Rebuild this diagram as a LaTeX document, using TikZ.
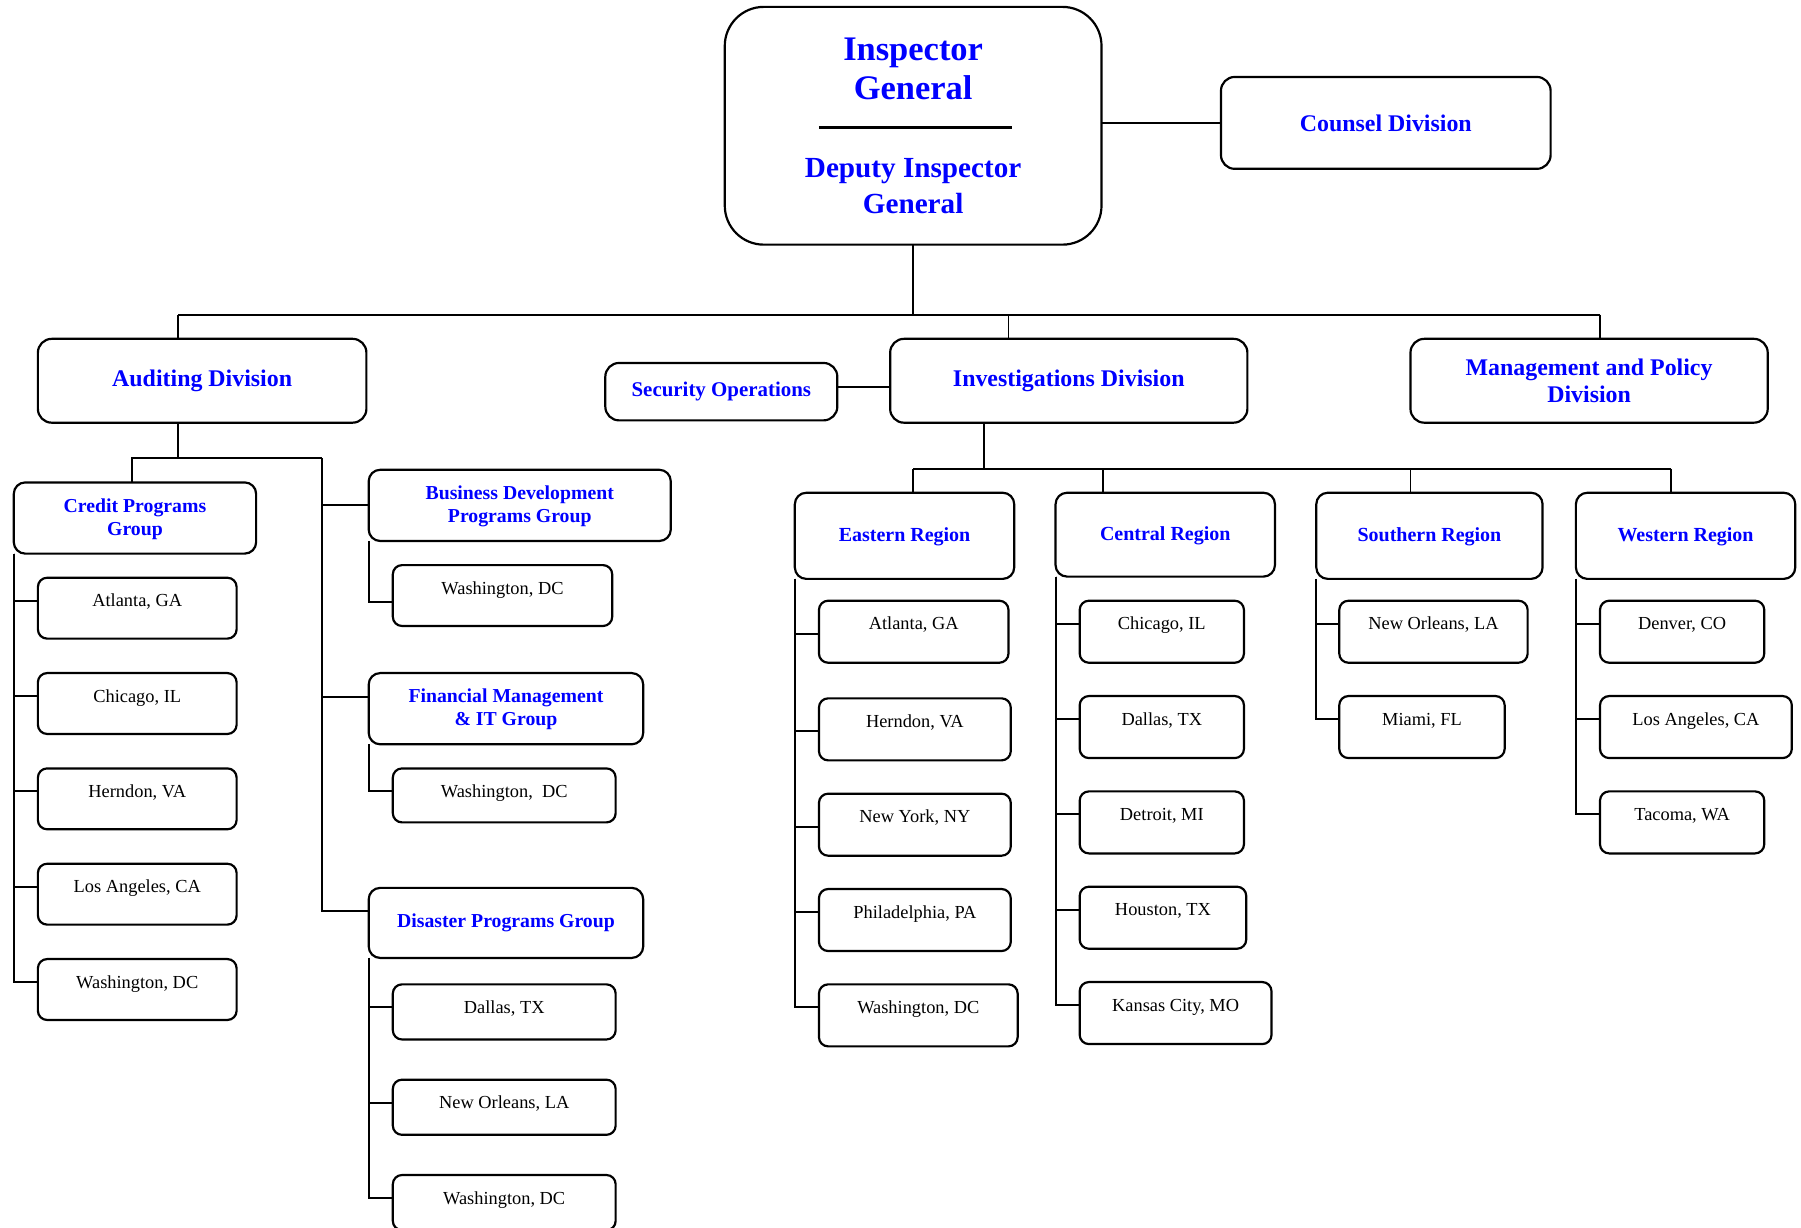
\documentclass[tikz,border=0pt]{standalone}
\usepackage{fontspec}
\setmainfont{Liberation Serif}
\usetikzlibrary{calc}
\definecolor{orgblue}{RGB}{0,0,255}
\tikzset{
  box/.style={draw, line width=0.95pt, inner sep=0pt, outer sep=0pt, anchor=north west, align=center},
  division/.style={box, rounded corners=6pt, text=orgblue, font=\bfseries\fontsize{10.4}{12}\selectfont},
  group/.style={box, rounded corners=5pt, text=orgblue, font=\bfseries\fontsize{8.6}{10}\selectfont},
  region/.style={group, font=\bfseries\fontsize{8.7}{10}\selectfont},
  office/.style={box, rounded corners=4pt, font=\fontsize{8}{9.6}\selectfont, text height=12.7pt, text depth=#1},
  office/.default=13.8pt
}

\begin{document}
\begin{tikzpicture}[x=0.5pt, y=-0.5pt, line width=0.85pt]
\useasboundingbox (0,0) rectangle (1568,1069);

% top of the chart
\node[box, rounded corners=17pt, minimum width=164pt, minimum height=103.5pt] (ig) at (631,6) {};
\node[text=orgblue, align=center, font=\bfseries\fontsize{15}{17}\selectfont] (igname) at (795,60) {Inspector\\General};
\node[text=orgblue, align=center, font=\bfseries\fontsize{12.7}{16}\selectfont] (igdeputy) at (795,162) {Deputy Inspector\\General};
\draw[line width=0.9pt] (713,111) -- (881,111);

\node[division, minimum width=143.5pt, minimum height=40pt] (counsel) at (1063,67) {Counsel Division};
\node[division, minimum width=143pt, minimum height=36.5pt] (audit) at (33,295) {Auditing Division};
\node[division, font=\bfseries\fontsize{9.1}{11}\selectfont, minimum width=101pt, minimum height=25pt] (security) at (527,316) {Security Operations};
\node[division, minimum width=155.5pt, minimum height=36.5pt] (invest) at (775,295) {Investigations Division};
\node[division, minimum width=155.5pt, minimum height=36.5pt] (mgmt) at (1228,295) {Management and Policy\\Division};

% auditing groups
\node[group, minimum width=105.5pt, minimum height=31pt, text depth=1pt] (credit) at (12,420) {Credit Programs\\Group};
\node[group, minimum width=131.5pt, minimum height=31pt, text depth=1pt] (busdev) at (321,409) {Business Development\\Programs Group};
\node[group, minimum width=119.5pt, minimum height=31pt, text depth=1pt] (finmgmt) at (321,586) {Financial Management\\\& IT Group};
\node[group, minimum width=119.5pt, minimum height=30.5pt] (disaster) at (321,773) {Disaster Programs Group};

\node[office, minimum width=86.5pt] (cp1) at (33,503) {Atlanta, GA};
\node[office, minimum width=86.5pt] (cp2) at (33,586) {Chicago, IL};
\node[office, minimum width=86.5pt] (cp3) at (33,669) {Herndon, VA};
\node[office, minimum width=86.5pt] (cp4) at (33,752) {Los Angeles, CA};
\node[office, minimum width=86.5pt] (cp5) at (33,835) {Washington, DC};

\node[office, minimum width=95.5pt] (bd1) at (342,492) {Washington, DC};
\node[office=10.8pt, minimum width=97pt] (fm1) at (342,669) {Washington,\ \ DC};
\node[office=11.3pt, minimum width=97pt] (dp1) at (342,857) {Dallas, TX};
\node[office=11.3pt, minimum width=97pt] (dp2) at (342,940) {New Orleans, LA};
\node[office=11.3pt, minimum width=97pt] (dp3) at (342,1023) {Washington, DC};

% investigation regions
\node[region, minimum width=95.5pt, minimum height=37.5pt, text depth=1pt] (eastern) at (692,429) {Eastern Region};
\node[region, minimum width=95.5pt, minimum height=36.5pt, text depth=1pt] (central) at (919,429) {Central Region};
\node[region, minimum width=98.5pt, minimum height=37.5pt, text depth=1pt] (southern) at (1146,429) {Southern Region};
\node[region, minimum width=95.5pt, minimum height=37.5pt, text depth=1pt] (western) at (1372,429) {Western Region};

\node[office=14.3pt, minimum width=82.5pt] (er1) at (713,523) {Atlanta, GA};
\node[office=14.3pt, minimum width=83.5pt] (er2) at (713,608) {Herndon, VA};
\node[office=14.3pt, minimum width=83.5pt] (er3) at (713,691) {New York, NY};
\node[office=14.3pt, minimum width=83.5pt] (er4) at (713,774) {Philadelphia, PA};
\node[office=14.3pt, minimum width=86.5pt] (er5) at (713,857) {Washington, DC};

\node[office=14.3pt, minimum width=71.5pt] (cr1) at (940,523) {Chicago, IL};
\node[office=14.3pt, minimum width=71.5pt] (cr2) at (940,606) {Dallas, TX};
\node[office=14.3pt, minimum width=71.5pt] (cr3) at (940,689) {Detroit, MI};
\node[office=14.3pt, minimum width=72.5pt] (cr4) at (940,772) {Houston, TX};
\node[office=14.3pt, minimum width=83.5pt] (cr5) at (940,855) {Kansas City, MO};

\node[office=14.3pt, minimum width=82pt] (sr1) at (1166,523) {New Orleans, LA};
\node[office=14.3pt, minimum width=72pt] (sr2) at (1166,606) {Miami, FL};

\node[office=14.3pt, minimum width=71.5pt] (wr1) at (1393,523) {Denver, CO};
\node[office=14.3pt, minimum width=83.5pt] (wr2) at (1393,606) {Los Angeles, CA};
\node[office=14.3pt, minimum width=71.5pt] (wr3) at (1393,689) {Tacoma, WA};

% lines
\coordinate (busA) at (155,274);
\coordinate (busI) at (878,274);
\coordinate (busM) at (1393,274);
\draw (ig.south) -- (ig.south |- busA);
\draw (busA) -- (busM);
\draw (busA) -- (busA |- audit.north);
\draw (busI) -- (busI |- invest.north);
\draw (busM) -- (busM |- mgmt.north);
\draw (ig.east |- counsel.west) -- (counsel.west);
\coordinate (secR) at ([yshift=2pt]security.east);
\draw (secR) -- (secR -| invest.west);

\coordinate (audJ) at (155,399);
\coordinate (audC) at (115,399);
\coordinate (audS) at (280,399);
\draw (audit.south -| audJ) -- (audJ);
\draw (audC |- credit.north) -- (audC) -- (audS);
\draw (audS) |- (busdev.west);
\draw (audS) |- ($(finmgmt.north west)!.33!(finmgmt.south west)$);
\draw (audS) |- ($(disaster.north west)!.33!(disaster.south west)$);

\draw (credit.south west) |- ([yshift=-10pt]cp1.north west);
\draw (credit.south west) |- ([yshift=-10pt]cp2.north west);
\draw (credit.south west) |- ([yshift=-10pt]cp3.north west);
\draw (credit.south west) |- ([yshift=-10pt]cp4.north west);
\draw (credit.south west) |- ([yshift=-10pt]cp5.north west);
\draw (busdev.south west) |- ([yshift=-16pt]bd1.north west);
\draw (finmgmt.south west) |- ([yshift=-10pt]fm1.north west);
\draw (disaster.south west) |- ([yshift=-10pt]dp1.north west);
\draw (disaster.south west) |- ([yshift=-10pt]dp2.north west);
\draw (disaster.south west) |- ([yshift=-10pt]dp3.north west);

\coordinate (invJ) at (857,408);
\coordinate (regE) at (795,408);
\coordinate (regC) at (960,408);
\coordinate (regS) at (1228,408);
\coordinate (regW) at (1455,408);
\draw (invest.south -| invJ) -- (invJ);
\draw (regE) -- (regW);
\draw (regE) -- (regE |- eastern.north);
\draw (regC) -- (regC |- central.north);
\draw (regS) -- (regS |- southern.north);
\draw (regW) -- (regW |- western.north);

\draw (eastern.south west) |- ([yshift=-14.3pt]er1.north west);
\draw (eastern.south west) |- ([yshift=-14.3pt]er2.north west);
\draw (eastern.south west) |- ([yshift=-14.3pt]er3.north west);
\draw (eastern.south west) |- ([yshift=-10pt]er4.north west);
\draw (eastern.south west) |- ([yshift=-10pt]er5.north west);
\draw (central.south west) |- ([yshift=-10pt]cr1.north west);
\draw (central.south west) |- ([yshift=-10pt]cr2.north west);
\draw (central.south west) |- ([yshift=-10pt]cr3.north west);
\draw (central.south west) |- ([yshift=-10pt]cr4.north west);
\draw (central.south west) |- ([yshift=-10pt]cr5.north west);
\draw (southern.south west) |- ([yshift=-10pt]sr1.north west);
\draw (southern.south west) |- ([yshift=-10pt]sr2.north west);
\draw (western.south west) |- ([yshift=-10pt]wr1.north west);
\draw (western.south west) |- ([yshift=-10pt]wr2.north west);
\draw (western.south west) |- ([yshift=-10pt]wr3.north west);
\end{tikzpicture}
\end{document}
